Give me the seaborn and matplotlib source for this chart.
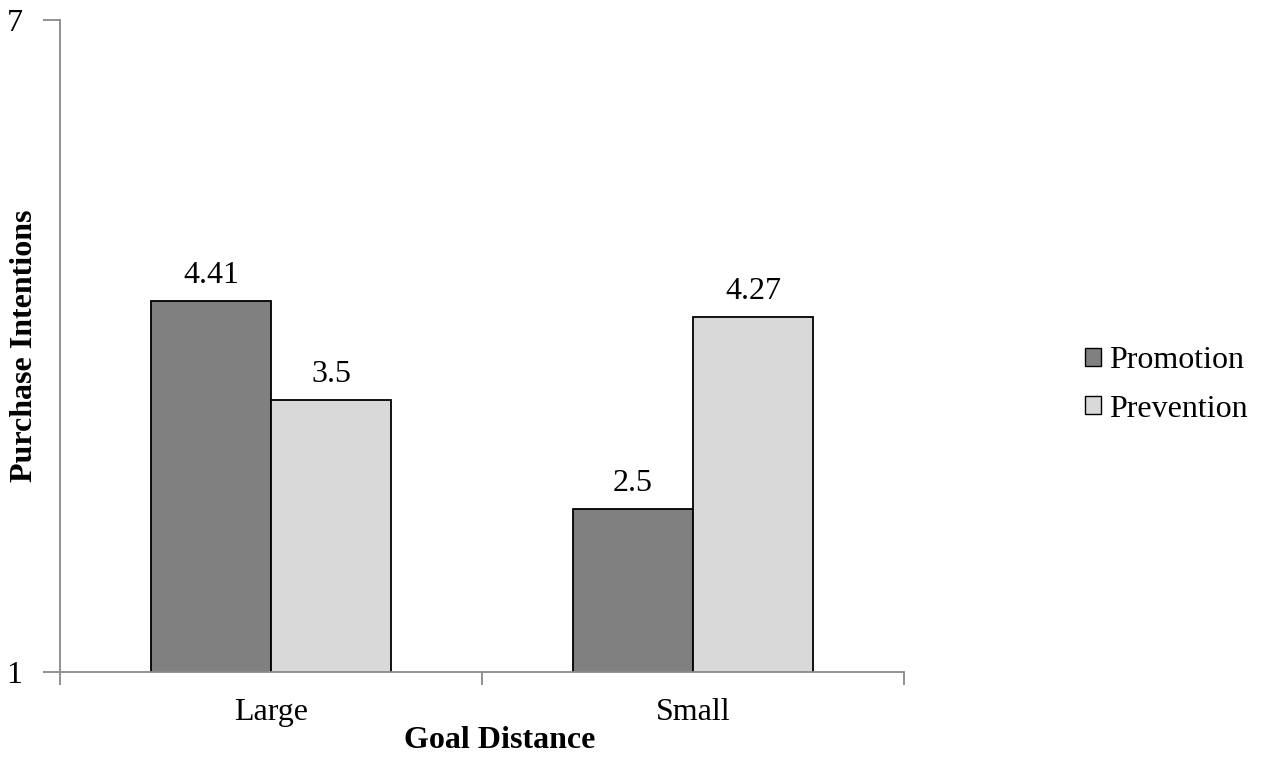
import matplotlib
matplotlib.use("Agg")
import matplotlib.pyplot as plt
import seaborn as sns
import pandas as pd
from matplotlib.patches import Patch

# Data
distances = ["Large", "Small"]
focus = ["Promotion", "Prevention"]
promotion_vals = [4.41, 2.5]
prevention_vals = [3.5, 4.27]
value_labels = {"Promotion": ["4.41", "2.5"], "Prevention": ["3.5", "4.27"]}

df = pd.DataFrame({
    "Goal Distance": distances * 2,
    "Focus": ["Promotion"] * 2 + ["Prevention"] * 2,
    "Value": promotion_vals + prevention_vals,
})

sns.set_theme(style="white")
plt.rcParams["font.family"] = ["Liberation Serif", "DejaVu Serif"]
plt.rcParams["text.color"] = "black"
plt.rcParams["axes.labelcolor"] = "black"
plt.rcParams["xtick.color"] = "black"
plt.rcParams["ytick.color"] = "black"

FS = 23
W, H = 1264, 761
fig = plt.figure(figsize=(W / 100, H / 100), dpi=100)
ax = fig.add_axes([60 / W, (H - 672) / H, (904 - 60) / W, (672 - 20) / H])

palette = {"Promotion": "#808080", "Prevention": "#d9d9d9"}
sns.barplot(data=df, x="Goal Distance", y="Value", hue="Focus",
            order=distances, hue_order=focus, palette=palette,
            width=0.57, edgecolor="black", linewidth=1.3,
            saturation=1, ax=ax, legend=False)

# Labels from the values, above each bar
for container, name in zip(ax.containers, focus):
    ax.bar_label(container, labels=value_labels[name], padding=8, fontsize=FS)

ax.set_ylim(1, 7)
ax.set_xlim(-0.5, 1.5)
ax.set_yticks([1, 7])
ax.set_yticklabels(["1", "7"], fontsize=FS)

# Category separators as major ticks, category names as minor ticks
ax.set_xticks([-0.5, 0.5, 1.5])
ax.set_xticklabels(["", "", ""])
ax.set_xticks([0, 1], minor=True)
ax.set_xticklabels(distances, minor=True, fontsize=FS)
ax.tick_params(axis="x", which="minor", bottom=True, length=0, pad=19)
ax.tick_params(axis="x", which="major", bottom=True, length=9, width=1.3,
               color="#898989", direction="out")
ax.tick_params(axis="y", left=True, length=12, width=1.3, color="#898989",
               direction="out", pad=15)

for s in ["top", "right"]:
    ax.spines[s].set_visible(False)
for s in ["left", "bottom"]:
    ax.spines[s].set_color("#898989")
    ax.spines[s].set_linewidth(1.3)

ax.set_xlabel("Goal Distance", fontsize=FS, fontweight="bold", labelpad=0)
ax.set_ylabel("Purchase Intentions", fontsize=FS, fontweight="bold")
ax.yaxis.set_label_coords((24 - 60) / 844, 0.5)
ax.xaxis.set_label_coords((500 - 60) / 844, -(741 - 672) / 652)
ax.xaxis.label.set_va("center")
ax.yaxis.label.set_va("center")
ax.grid(False)

handles = [Patch(facecolor=palette[f], edgecolor="black", linewidth=1.0, label=f) for f in focus]
fig.legend(handles=handles, loc="center left", bbox_to_anchor=(1056 / W, (H - 385) / H),
           frameon=False, fontsize=FS, handlelength=0.5, handleheight=0.5,
           handletextpad=0.25, labelspacing=0.6)

fig.savefig("out.png", dpi=100)
